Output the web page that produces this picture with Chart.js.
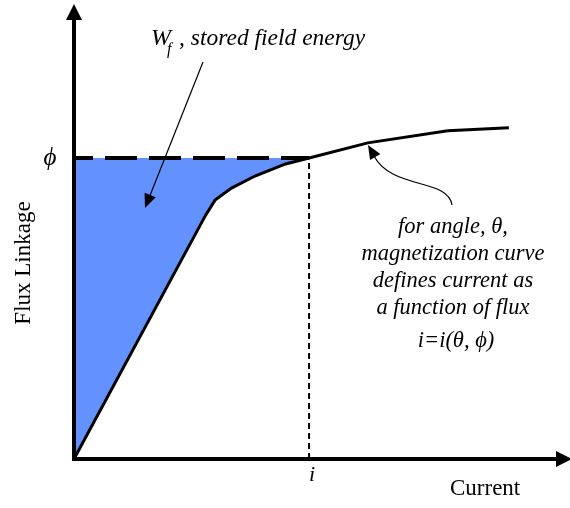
<!DOCTYPE html>
<html>
<head>
<meta charset="utf-8">
<script src="https://cdn.jsdelivr.net/npm/chart.js@4.4.1/dist/chart.umd.min.js"></script>
<style>
  html, body { margin: 0; padding: 0; background: #fff; }
  #wrap { width: 570px; height: 508px; }
</style>
</head>
<body>
<div id="wrap"><canvas id="flux" width="570" height="508"></canvas></div>
<script>
// magnetization curve, current vs flux linkage (normalised to the operating point)
const current = [0, 0.56, 0.60, 0.67, 0.77, 0.90, 1.00, 1.25, 1.59, 1.85];
const flux    = [0, 0.81, 0.86, 0.90, 0.94, 0.98, 1.00, 1.05, 1.09, 1.10];
const phiLevel = 1.0;   // flux at the operating point
const iLevel = 1.0;     // current at the operating point
const xMax = 2.11;
const yMax = 1.508;

const SERIF = '"Liberation Serif", "Times New Roman", serif';
const PHI = '\u03D5', THETA = '\u03B8';

const curvePts = current.map((c, k) => ({ x: c, y: flux[k] }));
const energyPts = curvePts.filter(p => p.x <= iLevel);

function arrowHead(ctx, fromX, fromY, toX, toY, len, half) {
  const a = Math.atan2(toY - fromY, toX - fromX);
  ctx.beginPath();
  ctx.moveTo(toX, toY);
  ctx.lineTo(toX - len * Math.cos(a) + half * Math.sin(a), toY - len * Math.sin(a) - half * Math.cos(a));
  ctx.lineTo(toX - len * Math.cos(a) - half * Math.sin(a), toY - len * Math.sin(a) + half * Math.cos(a));
  ctx.closePath();
  ctx.fill();
}

const decorations = {
  id: 'decorations',
  afterDatasetsDraw(chart) {
    const ctx = chart.ctx;
    const xs = chart.scales.x, ys = chart.scales.y;
    const ox = xs.getPixelForValue(0), oy = ys.getPixelForValue(0);
    const area = chart.chartArea;

    ctx.save();
    ctx.fillStyle = '#000';
    ctx.strokeStyle = '#000';

    // axes with arrow heads
    ctx.lineWidth = 4;
    ctx.beginPath();
    ctx.moveTo(ox, oy + 2);
    ctx.lineTo(ox, area.top + 14);
    ctx.moveTo(ox - 2, oy);
    ctx.lineTo(area.right - 10, oy);
    ctx.stroke();
    arrowHead(ctx, ox, oy, ox, area.top - 1, 16, 8);
    arrowHead(ctx, ox, oy, area.right + 2, oy, 16, 8);

    // tick labels at the operating point
    ctx.textAlign = 'center';
    ctx.textBaseline = 'alphabetic';
    ctx.font = 'italic 25px ' + SERIF;
    ctx.fillText(PHI, ox - 24, ys.getPixelForValue(phiLevel) + 7);
    ctx.font = 'italic 22px ' + SERIF;
    ctx.fillText('i', xs.getPixelForValue(iLevel) + 3, oy + 22);

    // axis titles
    ctx.font = '23px ' + SERIF;
    ctx.textAlign = 'left';
    ctx.fillText('Current', 450, 495);
    ctx.save();
    ctx.translate(30, 263);
    ctx.rotate(-Math.PI / 2);
    ctx.textAlign = 'center';
    ctx.fillText('Flux Linkage', 0, 0);
    ctx.restore();

    // stored energy label and pointer
    ctx.textAlign = 'left';
    ctx.font = 'italic 24px ' + SERIF;
    ctx.fillText('W', 151, 45);
    ctx.font = 'italic 16px ' + SERIF;
    ctx.fillText('f', 167, 54);
    ctx.font = 'italic 23.5px ' + SERIF;
    ctx.fillText(', stored field energy', 179, 45);

    ctx.lineWidth = 1.2;
    ctx.beginPath();
    ctx.moveTo(203, 62);
    ctx.lineTo(149, 198);
    ctx.stroke();
    arrowHead(ctx, 203, 62, 145, 208, 14, 6);

    // curve note and curved pointer
    ctx.beginPath();
    ctx.moveTo(452, 205);
    ctx.bezierCurveTo(448, 178, 392, 190, 374, 156);
    ctx.stroke();
    arrowHead(ctx, 377, 160, 368, 145, 14, 6);

    ctx.textAlign = 'center';
    ctx.font = 'italic 22.5px ' + SERIF;
    const note = ['for angle, ' + THETA + ',', 'magnetization curve', 'defines current as', 'a function of flux'];
    note.forEach((t, k) => ctx.fillText(t, 453, 233 + k * 27));
    ctx.fillText('i=i(' + THETA + ', ' + PHI + ')', 456, 347);

    ctx.restore();
  }
};

new Chart(document.getElementById('flux').getContext('2d'), {
  type: 'line',
  data: {
    datasets: [
      {
        label: 'phi level',
        data: [{ x: 0, y: phiLevel }, { x: iLevel, y: phiLevel }],
        borderColor: '#000',
        borderWidth: 4,
        borderDash: [32, 12],
        borderDashOffset: 13,
        pointRadius: 0,
        fill: false
      },
      {
        label: 'current level',
        data: [{ x: iLevel, y: 0 }, { x: iLevel, y: phiLevel }],
        borderColor: '#000',
        borderWidth: 2,
        borderDash: [6, 4],
        pointRadius: 0,
        fill: false
      },
      {
        label: 'magnetization curve',
        data: curvePts,
        borderColor: '#000',
        borderWidth: 3,
        pointRadius: 0,
        tension: 0,
        fill: false
      },
      {
        label: 'stored field energy',
        data: energyPts,
        borderWidth: 0,
        borderColor: 'rgba(0,0,0,0)',
        backgroundColor: '#6392ff',
        pointRadius: 0,
        tension: 0,
        fill: { value: phiLevel }
      }
    ]
  },
  options: {
    responsive: false,
    animation: false,
    layout: { padding: { left: 74, top: 5, right: 0, bottom: 49 } },
    scales: {
      x: { type: 'linear', min: 0, max: xMax, display: false },
      y: { type: 'linear', min: 0, max: yMax, display: false }
    },
    plugins: {
      legend: { display: false },
      tooltip: { enabled: false }
    }
  },
  plugins: [decorations]
});
</script>
</body>
</html>
